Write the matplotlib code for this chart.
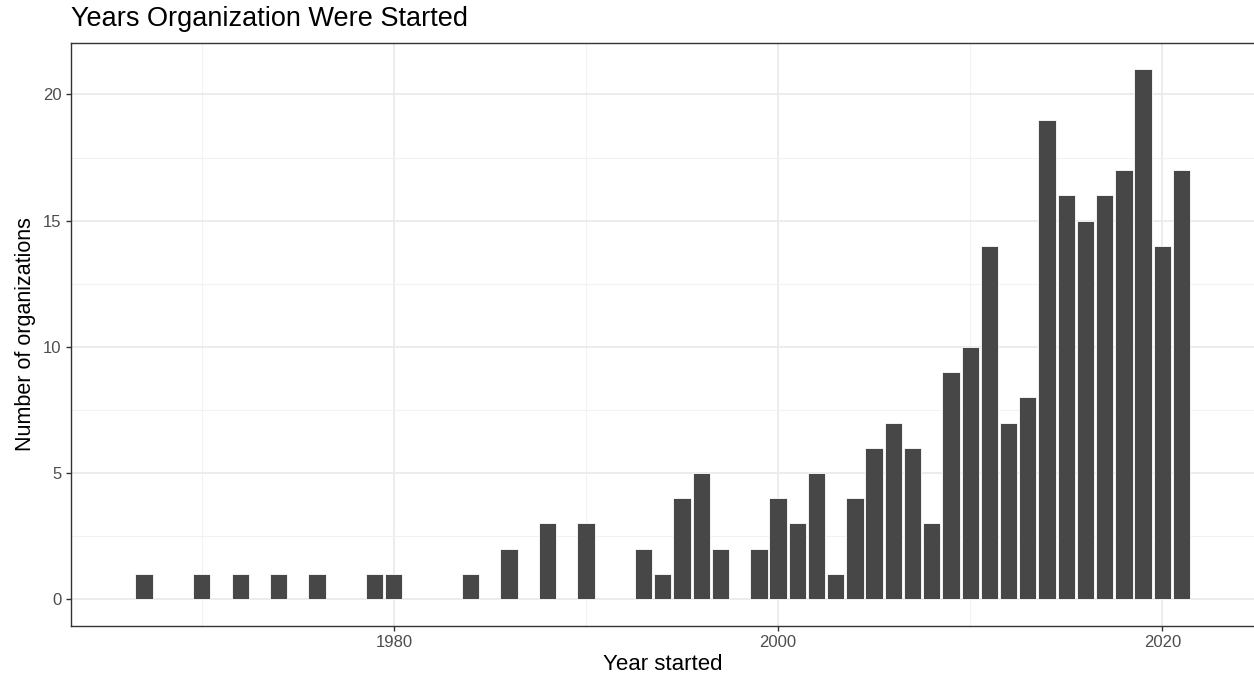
import matplotlib
matplotlib.use("Agg")
import matplotlib.pyplot as plt
from matplotlib.ticker import FixedLocator

years = [1967, 1970, 1972, 1974, 1976, 1979, 1980, 1984, 1986, 1988, 1990,
         1993, 1994, 1995, 1996, 1997, 1999, 2000, 2001, 2002, 2003, 2004,
         2005, 2006, 2007, 2008, 2009, 2010, 2011, 2012, 2013, 2014, 2015,
         2016, 2017, 2018, 2019, 2020, 2021]
counts = [1, 1, 1, 1, 1, 1, 1, 1, 2, 3, 3,
          2, 1, 4, 5, 2, 2, 4, 3, 5, 1, 4,
          6, 7, 6, 3, 9, 10, 14, 7, 8, 19, 16,
          15, 16, 17, 21, 14, 17]
x_ticks = [1980, 2000, 2020]
y_ticks = [0, 5, 10, 15, 20]

title = "Years Organization Were Started"
x_label = "Year started"
y_label = "Number of organizations"

plt.rcParams['font.family'] = ['Liberation Sans', 'DejaVu Sans']

W, H = 1254, 679
fig = plt.figure(figsize=(W / 100, H / 100), dpi=100)
left, right, top, bottom = 70.7, 1255.5, 42.7, 625.7
ax = fig.add_axes([left / W, 1 - bottom / H, (right - left) / W, (bottom - top) / H])

ax.bar(years, counts, width=0.9, color='#474747', edgecolor='white', linewidth=0.6, zorder=3)

ax.set_xlim(1963.18, 2024.85)
ax.set_ylim(-1.05, 22.05)

ax.xaxis.set_major_locator(FixedLocator(x_ticks))
ax.xaxis.set_minor_locator(FixedLocator([1970, 1990, 2010]))
ax.yaxis.set_major_locator(FixedLocator(y_ticks))
ax.yaxis.set_minor_locator(FixedLocator([2.5, 7.5, 12.5, 17.5]))

ax.grid(which='major', color='#EBEBEB', linewidth=1.3, zorder=0)
ax.grid(which='minor', color='#F2F2F2', linewidth=0.8, zorder=0)
ax.set_axisbelow(True)

for s in ax.spines.values():
    s.set_color('#333333')
    s.set_linewidth(1.0)

ax.tick_params(which='major', length=3.5, width=1.0, color='#333333',
               labelsize=12, labelcolor='#4D4D4D', pad=3)
ax.tick_params(which='minor', length=0)

ax.set_xlabel(x_label, fontsize=16, color='black', labelpad=3)
ax.set_ylabel(y_label, fontsize=15.5, color='black', labelpad=5)
fig.text(left / W, 1 - 19 / H, title, fontsize=19.5, color='black',
         ha='left', va='center')

fig.savefig('out.png', dpi=100, facecolor='white')
